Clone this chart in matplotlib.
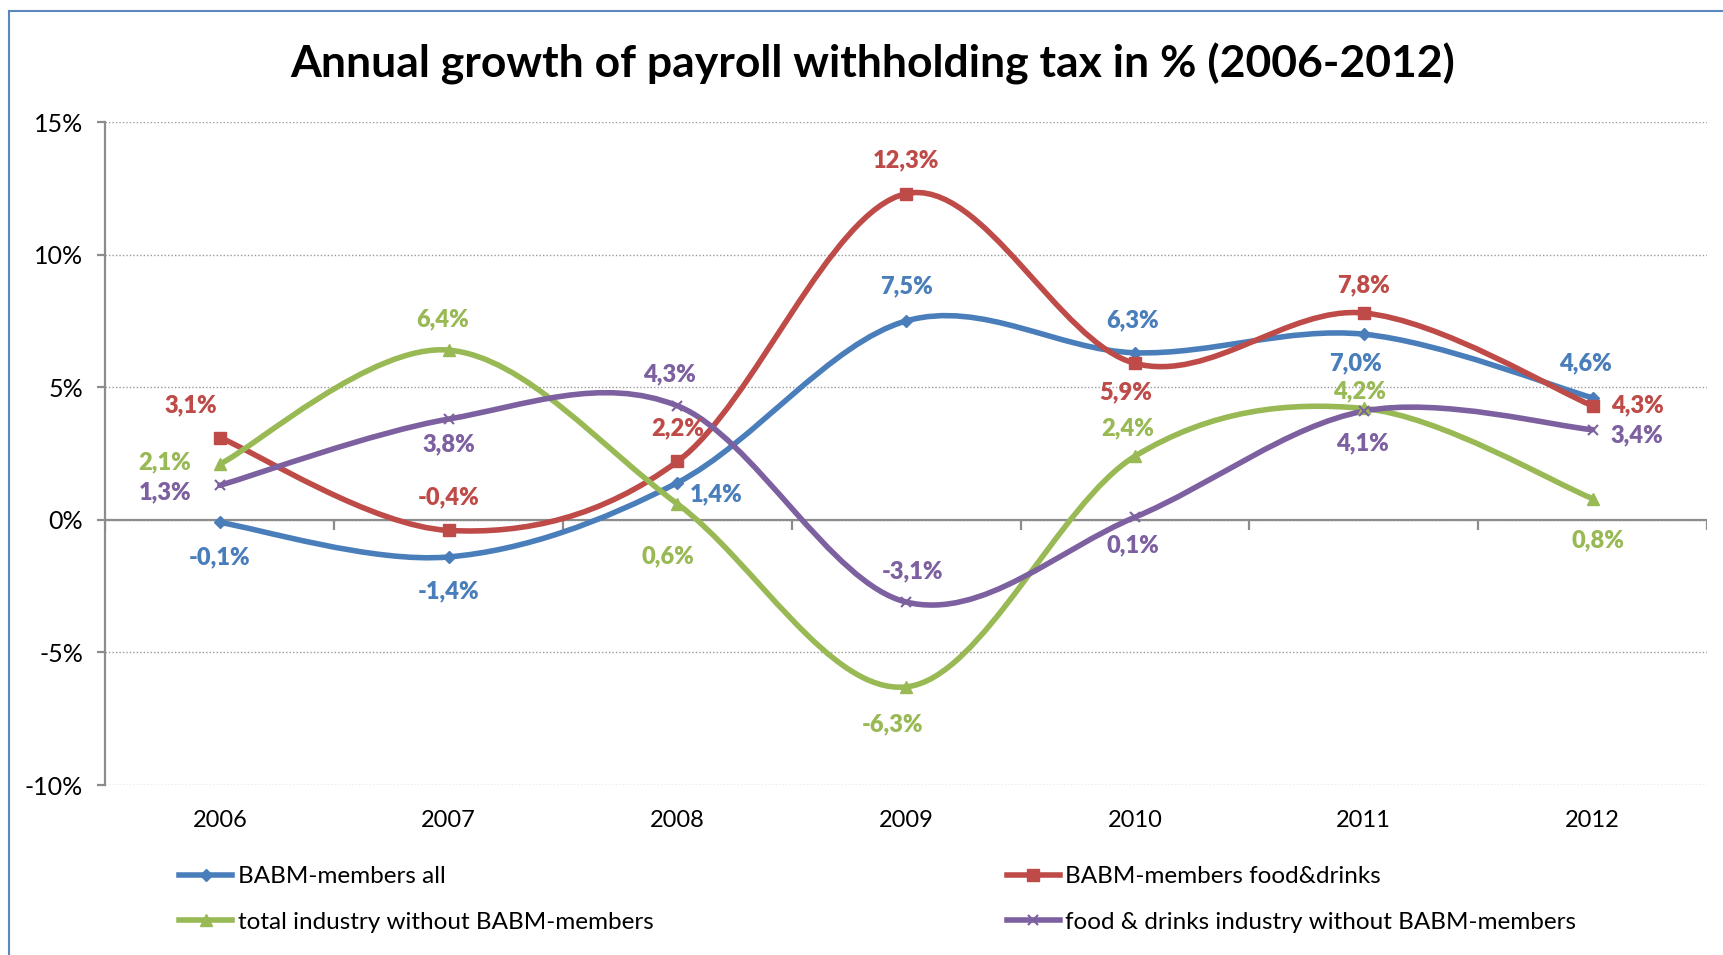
import numpy as np
import matplotlib
matplotlib.use('Agg')
import matplotlib.pyplot as plt
from matplotlib.path import Path
from matplotlib.patches import PathPatch
from matplotlib.lines import Line2D

plt.rcParams['font.family'] = ['Lato', 'DejaVu Sans']

years = ['2006', '2007', '2008', '2009', '2010', '2011', '2012']
babm_all = [-0.1, -1.4, 1.4, 7.5, 6.3, 7.0, 4.6]
babm_food = [3.1, -0.4, 2.2, 12.3, 5.9, 7.8, 4.3]
industry_wo = [2.1, 6.4, 0.6, -6.3, 2.4, 4.2, 0.8]
food_wo = [1.3, 3.8, 4.3, -3.1, 0.1, 4.1, 3.4]
series_names = ['BABM-members all', 'BABM-members food&drinks',
                'total industry without BABM-members',
                'food & drinks industry without BABM-members']
y_ticks = [-10, -5, 0, 5, 10, 15]
y_tick_labels = ['-10%', '-5%', '0%', '5%', '10%', '15%']

# styling
colors = ['#4A7EBB', '#BE4B48', '#98B954', '#7D60A0']
markers = ['D', 's', '^', 'x']
msizes = [6, 8, 8, 7]
# label offsets (points) per series, per year
offsets = [
    [(0, -25), (0, -24.5), (28, -8.7), (0, 25), (-2, 23.7), (-6, -21), (-5.5, 25)],
    [(-21, 23), (0, 23.7), (0, 23.7), (0, 23.7), (-7, -20.6), (0, 20), (32, 0)],
    [(-39.5, 1.6), (-4, 22), (-7, -37.6), (-10, -27), (-5.5, 20), (-3, 12), (4, -30)],
    [(-39.5, -4.9), (0, -18), (-5.5, 23), (4.7, 22), (-1.6, -20.6), (-0.8, -23), (32, -4)],
]


def smooth_path(xs, ys):
    # Excel-like smoothed line: cubic bezier through every point
    pts = np.column_stack([xs, ys]).astype(float)
    n = len(pts)
    verts = [pts[0]]
    codes = [Path.MOVETO]
    for i in range(n - 1):
        p0 = pts[i - 1] if i > 0 else pts[i]
        p1 = pts[i]
        p2 = pts[i + 1]
        p3 = pts[i + 2] if i + 2 < n else pts[i + 1]
        c1 = p1 + (p2 - p0) / 6.0
        c2 = p2 - (p3 - p1) / 6.0
        verts += [c1, c2, p2]
        codes += [Path.CURVE4] * 3
    return Path(verts, codes)


fig = plt.figure(figsize=(17.23, 9.55), dpi=100)
ax = fig.add_axes([0.0612, 0.178, 0.9295, 0.6942])

x = np.arange(len(years))
all_series = [babm_all, babm_food, industry_wo, food_wo]

ax.set_xlim(-0.5, len(years) - 0.5)
ax.set_ylim(-10, 15)

ax.yaxis.grid(True, linestyle=(0, (1, 1.5)), color='#9A9A9A', linewidth=1)
ax.set_axisbelow(True)
ax.axhline(0, color='#8C8C8C', linewidth=1.6, zorder=1)
bounds = np.arange(len(years) + 1) - 0.5
ax.vlines(bounds, -0.38, 0, color='#8C8C8C', linewidth=1.6, zorder=1)

handles = []
for vals, col, mk, ms, offs, name in zip(all_series, colors, markers, msizes,
                                          offsets, series_names):
    patch = PathPatch(smooth_path(x, vals), facecolor='none', edgecolor=col,
                      linewidth=4.0, capstyle='round', joinstyle='round', zorder=3)
    ax.add_patch(patch)
    ax.plot(x, vals, linestyle='none', marker=mk, markersize=ms, color=col,
            markeredgewidth=1.5 if mk == 'x' else 1, zorder=4)
    for xi, v, (dx, dy) in zip(x, vals, offs):
        ax.annotate(f'{v:.1f}'.replace('.', ',') + '%', (xi, v),
                    xytext=(dx, dy), textcoords='offset points',
                    ha='center', va='center', fontsize=17, fontweight='heavy',
                    color=col, zorder=5)
    handles.append(Line2D([], [], color=col, linewidth=4.0, marker=mk,
                          markersize=ms, markeredgewidth=1.5 if mk == 'x' else 1,
                          label=name))

for s in ['top', 'right', 'bottom']:
    ax.spines[s].set_visible(False)
ax.spines['left'].set_color('#8C8C8C')
ax.spines['left'].set_linewidth(1.6)

ax.set_yticks(y_ticks, y_tick_labels)
ax.tick_params(axis='y', length=6, width=1.6, color='#8C8C8C', pad=10, labelsize=18)
ax.set_xticks(x, years)
ax.tick_params(axis='x', length=0, pad=18, labelsize=17)

fig.text(0.5064, 0.9335, 'Annual growth of payroll withholding tax in % (2006-2012)',
         ha='center', va='center', fontsize=32, fontweight='bold')

leg_kw = dict(frameon=False, fontsize=17.5, handlelength=2.18, handletextpad=0.23,
              labelspacing=1.01, borderpad=0, borderaxespad=0, loc='upper left')
fig.legend(handles=[handles[0], handles[2]], bbox_to_anchor=(0.104, 0.093), **leg_kw)
fig.legend(handles=[handles[1], handles[3]], bbox_to_anchor=(0.5843, 0.093), **leg_kw)

# outer chart frame
fx, fy = 9 / 1723, 1 - 11 / 955
fig.add_artist(Line2D([fx, fx], [0, fy], color='#5B86C0', linewidth=1.5,
                      transform=fig.transFigure))
fig.add_artist(Line2D([fx, 1], [fy, fy], color='#5B86C0', linewidth=1.5,
                      transform=fig.transFigure))

fig.savefig('out.png', dpi=100)
